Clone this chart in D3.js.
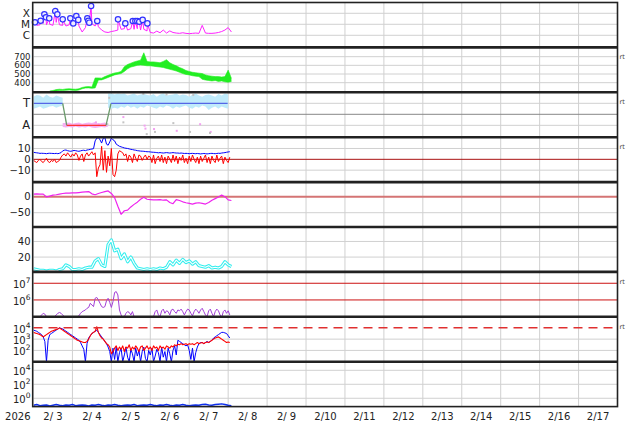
<!DOCTYPE html>
<html>
<head>
<meta charset="utf-8">
<script src="https://cdn.jsdelivr.net/npm/d3@7"></script>
<style>
  body { margin: 0; background: #fff; }
  svg { display: block; font-family: "DejaVu Sans", sans-serif; }
</style>
</head>
<body>
<svg id="chart" width="634" height="424"></svg>
<script>
// all series: hours since 2026-02-03 00:00 UT

// panel 1: x-ray flux (W/m2), 2-hourly background + flare peaks
const xrayBg = [1.1e-5, 8e-6, 9e-6, 1.2e-5, 9e-6, 1e-5, 8e-6, 1.5e-5, 9e-6, 8e-6,
  7e-6, 9e-6, 8e-6, 1e-5, 7e-6, 2e-6, 5e-6, 8e-6, 1.1e-5, 7e-6,
  6e-6, 3e-6, 2e-6, 1.8e-6, 2.2e-6, 2.5e-6, 3e-6, 3.5e-6, 4e-6, 3e-6,
  4e-6, 3.5e-6, 4e-6, 3e-6, 3.5e-6, 2.5e-6, 1.8e-6, 1.6e-6, 2.4e-6, 1.7e-6,
  3e-6, 1.6e-6, 2.5e-6, 1.8e-6, 1.6e-6, 1.5e-6, 1.7e-6, 1.5e-6, 1.4e-6, 1.5e-6,
  1.6e-6, 1.5e-6, 8e-6, 1.6e-6, 1.5e-6, 1.5e-6, 1.6e-6, 1.8e-6, 2.2e-6, 3e-6,
  5e-6, 2e-6];
const flares = [[0.9, 1.5e-5], [4.4, 2.1e-5], [6.7, 8e-5], [7.7, 4.3e-5], [9.7, 3.5e-5],
  [13.4, 1.6e-4], [14.7, 8e-5], [18, 2.8e-5], [22.7, 3.5e-5], [24.5, 1.2e-5],
  [26.4, 5.6e-5], [27.6, 2.5e-5], [33.2, 3.5e-5], [33.8, 2.1e-5], [34.4, 1.4e-5],
  [35.5, 4.6e-4], [39.3, 2e-5], [52.1, 2.8e-5], [56.6, 1.2e-5], [61.2, 2e-5],
  [62.8, 2e-5], [64, 2e-5], [65.2, 1.7e-5], [67.3, 2.5e-5], [70.2, 1.2e-5]];
const xrayLabels = [["X", 1e-4], ["M", 1e-5], ["C", 1e-6]];

// panel 2: solar wind speed band (km/s), 2-hourly from h10
const speedLo = [295, 298, 305, 310, 310, 312, 315, 312, 310, 315,
  330, 338, 340, 335, 340, 430, 432, 445, 460, 475,
  490, 498, 505, 530, 560, 580, 590, 600, 605, 600,
  595, 595, 590, 585, 580, 575, 565, 555, 545, 535,
  520, 505, 495, 490, 480, 475, 470, 440, 430, 425,
  420, 425, 415, 420, 410, 405, 415];
const speedHi = [305, 310, 320, 325, 322, 328, 330, 326, 325, 330,
  345, 352, 355, 350, 455, 455, 452, 470, 485, 500,
  512, 518, 530, 585, 610, 625, 640, 650, 660, 745,
  645, 640, 640, 635, 630, 645, 665, 630, 610, 595,
  575, 560, 540, 530, 520, 515, 510, 505, 490, 480,
  475, 470, 470, 465, 470, 545, 450];
const speedTicks = [400, 500, 600, 700];

// panel 3: sector (T = 1, A = -1)
const sectorHours = [0, 18, 20.5, 44.7, 47.8, 119.7];
const sectorState = [1, 1, -1, -1, 1, 1];
const phiLo = [0.5, 0.6, 0.7, 0.5, 0.6, 0.7, 0.75, 0.6, 0.7, 0.8,
  null, null, null, null, null, null, null, null, null, null, null, null, null,
  0.6, 0.5, 0.6, 0.5, 0.7, 0.6, 0.8, 0.6, 0.7, 0.5, 0.7,
  0.6, 0.8, 0.7, 0.6, 0.5, 0.7, 0.6, 0.8, 0.7, 0.5,
  0.7, 0.6, 0.7, 0.8, 0.6, 0.5, 0.7, 0.6, 0.8, 0.7,
  0.4, 0.6, 0.7, 0.5, 0.7, 0.6, 0.5];
const phiHi = [1.6, 1.75, 1.7, 1.5, 1.8, 1.6, 1.5, 1.7, 1.6, 1.5,
  null, null, null, null, null, null, null, null, null, null, null, null, null,
  1.9, 1.9, 1.8, 1.9, 1.85, 1.9, 1.7, 1.8, 1.9, 1.7, 1.8,
  1.9, 1.75, 1.7, 1.85, 1.6, 1.8, 1.9, 1.7, 1.75, 1.8,
  1.9, 1.7, 1.8, 1.75, 1.6, 1.8, 1.9, 1.7, 1.6, 1.75,
  1.8, 1.7, 1.6, 1.85, 1.7, 1.9, 1.8];
const awayLo = [-1.15, -1.2, -1.15, -1.2, -1.1, -1.2, -1.15, -1.2, -1.1, -1.2, -1.25, -1.2, -1.15, -1.2, -1.1];
const awayHi = [-0.8, -0.8, -0.75, -0.85, -0.8, -0.75, -0.85, -0.8, -0.75, -0.8, -0.7, -0.85, -0.8, -0.75, -0.85];
const pinkDots = [[38.5, -0.73], [40.2, -0.9], [55.4, -0.25], [68.5, -1.03], [69, -1.3],
  [74.3, -1.34], [88.3, -1.5], [102.7, -0.9], [109.2, -1.6]];
const grayDots = [[46.7, 1.5], [55.4, -0.73], [69.8, -1.8], [74.9, -1.6], [86.2, -0.8],
  [96.5, -1.6], [108.8, -1.7], [45.5, -0.9], [67.7, 1.85], [82, 1.8], [98.5, 1.75]];

// panel 4: IMF Bt and Bz (nT), hourly
const bt = [6.5, 6.2, 6, 5.8, 5.5, 5.6, 5.5, 5.4, 5.2, 5.5, 5.6, 5.5, 5.4, 5.3, 5.5, 5.2, 5.6, 6.2,
  7.8, 8.4, 8.6, 8, 7.6, 7.4, 7.8, 8.2, 8, 7.6, 7.4, 7.8, 8.2, 8.4, 8, 8.6, 8.8, 9.2, 9.5, 9.8,
  17, 19.5, 20, 18, 15, 19.5, 20, 14, 13, 16, 19.5, 18, 17, 14, 13, 12,
  11.5, 11, 10.5, 10.2, 10, 9.6, 9.2, 9, 8.6, 8.4, 8, 7.8, 7.6, 7.5, 7.4, 7.2, 7, 7,
  6.8, 6.6, 6.5, 6.4, 6.2, 6, 6.2, 6, 5.8, 6, 6.2, 6, 5.8, 6, 6.2, 6, 5.8, 5.8, 5.6, 5.8,
  5.6, 5.4, 5.5, 5.4, 5.2, 5.4, 5.5, 5.3, 5.2, 5.4, 5.2, 5, 5.2, 5.4, 5.2, 5, 5.2, 5.4, 5.5, 5.3,
  5.2, 5.4, 5.6, 5.5, 5.8, 6, 6.2, 6.5, 6.8, 7];
const bz = [-1, -2, -3, -1, 0, -2, -3, -1, 1, -2, -3, -1, -2, 0, -3, -2, -1, 2,
  4, 5, 3, 6, 4, 2, 5, 3, 6, 4, -1, 3, 5, -2, 4, 6, 3, 5, 7, 4,
  6, -16, -8, -5, 12, -10, 8, -12, 3, -6, 10, -14, -16, -10, 5, 8,
  7, 6, 3, 5, -2, 4, 2, -3, 5, 1, -2, 4, 3, -1, 2, 4, 0, 3,
  2, -3, 4, -4, 1, 3, -2, 4, -3, 2, -4, 3, 0, -3, 4, -2, 3, -4, 2, -1,
  4, -3, 1, -4, 3, -2, 4, 0, -3, 2, -4, 3, -2, 1, 4, -3, 2, -4, 3, -1,
  -3, 4, -2, 1, 3, -4, 2, -1, -3, 2];
const imfTicks = [10, 0, -10];

// panel 5: Dst (nT), 2-hourly
const dst = [8, 9, 8, 8, -1, 2, 5, 6, 8, 10, 11, 11, 12, 12, 13, 14, 15, 16, 9, 6,
  10, 13, 16, 18, 10, -3, -30, -55, -44, -42, -32, -24, -17, -8, -2, -8, -9, -10, -10, -9,
  -11, -10, -18, -22, -9, -12, -16, -19, -21, -23, -20, -19, -21, -23, -18, -11, -6, -1, 5, 0,
  -10, -12];
const dstTicks = [0, -50];

// panel 6: index (cyan), 2-hourly
const cyanIdx = [5, 4, 3, 3, 2, 3, 3, 2, 4, 5, 10, 8, 4, 4, 5, 4, 6, 7, 7, 15,
  18, 10, 8, 36, 42, 28, 30, 18, 24, 14, 20, 12, 6, 5, 4, 5, 4, 5, 4, 6,
  5, 7, 14, 10, 16, 12, 17, 13, 15, 11, 14, 9, 8, 7, 9, 6, 7, 6, 8, 14, 10, 8];
const cyanTicks = [20, 40];

// panel 7: electron flux, log10, hourly
const electronExp = [5.0, 5.0, 4.95, 4.9, 5.0, 5.1, 5.2, 5.15, 5.0, 4.9, 4.95, 5.0, 4.9, 5.0, 5.1, 5.2, 5.25, 5.2, 5.1, 5.0,
  4.9, 4.85, 4.8, 4.8, 4.85, 4.9, 4.95, 5.0,
  5.05, 5.2, 5.3, 5.35, 5.4, 5.5, 5.55, 5.8, 5.7, 5.6, 6.1, 6.15, 6.0, 5.8, 5.6, 5.55, 5.6, 5.95, 6.1, 5.85,
  5.55, 5.9, 6.45, 6.5, 6.3, 5.4, 5.1, 4.9,
  5.0, 5.2, 5.3, 5.25, 5.1, 5.3, 5.0, 4.9, 4.8, 4.8, 4.8, 4.85, 4.9, 4.85, 4.8, 4.8, 4.85, 4.9, 5.0, 5.3,
  5.4, 5.1, 5.0, 5.35, 5.45, 5.2, 5.35, 5.3, 5.1, 5.4, 5.45, 5.3, 5.2, 5.4, 5.35, 5.45, 5.3, 5.1, 5.3, 5.45,
  5.4, 5.2, 5.05, 5.3, 5.45, 5.35, 5.2, 5.4, 5.5, 5.3, 5.1, 5.0, 5.35, 5.45, 5.2, 5.0, 5.3, 5.45, 5.35, 5.1,
  4.95, 5.3, 5.4, 5.2, 5.35, 5.1];
const electronTicks = [6, 7];

// panel 8: two log10 series, hourly
const blueExp = [3.8, 3.75, 3.7, 3.6, 3.5, 3.4, 3.2, 2.8, 1.0, 2.9, 3.4, 3.5, 3.6, 3.7, 3.8, 3.9, 4.0, 3.95, 3.9, 3.8,
  3.7, 3.6, 3.5, 3.4, 3.3, 3.2, 3.1, 3.0, 2.9, 2.7, 2.4, 2.1, 1.0, 2.6, 3.1, 3.3, 3.5, 3.6, 3.7, 3.8,
  3.6, 3.4, 3.2, 3.0, 2.8, 2.6, 2.3, 1.9, 1.0, 2.2,
  1.2, 2.3, 1.0, 1.8, 2.2, 1.0, 1.6, 2.3, 1.4, 1.0, 2.1, 1.7, 1.0, 2.2, 1.5, 2.0, 1.0, 1.9, 2.3, 1.3,
  1.0, 2.0, 1.6, 2.2, 1.0, 1.5, 2.1, 1.8, 1.0, 2.3, 1.4, 1.9, 1.0, 2.2, 1.7, 1.0, 2.0, 2.4, 1.6,
  2.9, 2.8, 2.7, 2.6, 2.5, 2.4, 2.5, 2.0, 1.2, 2.2, 1.0, 1.8, 2.3, 2.6, 2.7, 2.7, 2.6, 2.7, 2.8, 2.7,
  2.8, 2.9, 3.1, 3.2, 3.3, 3.4, 3.5, 3.6, 3.6, 3.55, 3.5, 3.3, 3.1];
const redExp = [3.6, 3.55, 3.5, 3.45, 3.4, 3.3, 3.2, 3.3, 3.4, 3.5, 3.6, 3.7, 3.75, 3.8, 3.85, 3.9, 4.0,
  3.9, 3.8, 3.7, 3.6, 3.5, 3.4, 3.3, 3.2, 3.1, 3.0, 2.9, 2.85, 2.8, 2.75, 2.7, 2.7, 2.8, 3.0, 3.3,
  3.5, 3.6, 3.7, 4.1, 3.6, 3.3, 3.1, 3.0, 2.8, 2.6, 2.5, 2.3, 1.7, 1.9,
  2.2, 2.4, 2.0, 2.3, 2.1, 2.4, 1.9, 2.3, 2.2, 2.5, 2.0, 2.3, 2.1, 2.4, 2.2, 1.9, 2.3, 2.4, 2.0, 2.2,
  2.4, 2.1, 2.3, 2.0, 2.4, 2.2, 2.3, 2.0, 2.4, 2.2, 2.3, 2.1, 2.4, 2.3, 2.2, 2.4, 2.3,
  2.5, 2.4, 2.55, 2.5, 2.6, 2.5, 2.55, 2.6, 2.5, 2.6, 2.55, 2.6, 2.5, 2.6, 2.7, 2.6, 2.65, 2.7, 2.6, 2.7,
  2.75, 2.7, 2.8, 2.9, 3.0, 3.1, 3.15, 3.2, 3.1, 3.0, 2.9, 2.8, 2.7, 2.75, 2.7];
const p8Ticks = [2, 3, 4];

// panel 9: log10, 2-hourly
const lowExp = [-1.0, -0.9, -1.05, -1.0, -0.95, -1.1, -1.0, -0.9, -1.0, -1.05, -0.95, -1.0, -0.9, -1.05, -1.0, -0.95,
  -1.0, -1.1, -0.95, -1.0, -0.9, -1.0, -1.05, -0.95, -1.0, -0.9, -1.0, -1.05, -1.0, -0.95, -1.0, -0.9,
  -1.05, -1.0, -0.95, -1.0, -0.9, -1.0, -1.05, -0.95, -1.0, -0.9, -1.0, -1.05, -0.95, -1.0, -0.9, -1.0,
  -1.05, -1.0, -0.95, -1.0, -0.9, -0.85, -0.95, -1.0, -0.9, -0.85, -0.8, -0.9, -1.0, -1.05];
const p9Ticks = [0, 2, 4];

// ---- layout ----
const svg = d3.select("#chart");
const L = 33.5, R = 617.5;
const T0 = Date.UTC(2026, 1, 3);
const hr = h => new Date(T0 + h * 3600e3);
const x = d3.scaleUtc().domain([hr(0), hr(360)]).range([L, R]);
const top0 = 2.5, ph = 44.9;
const pTop = i => top0 + i * ph, pBot = i => top0 + (i + 1) * ph;

const ys = [
  d3.scaleLog().domain([10 ** -7.1, 10 ** -3.02]),
  d3.scaleLinear().domain([289, 807]),
  d3.scaleLinear().domain([-2.08, 2.0]),
  d3.scaleLinear().domain([-21, 20.4]),
  d3.scaleLinear().domain([-94.7, 45.6]),
  d3.scaleLinear().domain([1, 58.5]),
  d3.scaleLog().domain([10 ** 4.99, 10 ** 7.68]),
  d3.scaleLog().domain([10, 10 ** 4.98]),
  d3.scaleLog().domain([10 ** -1.19, 10 ** 5.23])
];
ys.forEach((s, i) => s.range([pBot(i), pTop(i)]));

const seq = (arr, start, step) => arr.map((v, i) => ({ t: hr(start + i * step), v }));
const pow = arr => arr.map(e => 10 ** e);

const defs = svg.append("defs");
ys.forEach((s, i) => {
  defs.append("clipPath").attr("id", "clip" + i)
    .append("rect").attr("x", L).attr("y", pTop(i)).attr("width", R - L).attr("height", ph);
});

const gridG = svg.append("g");
const refG = svg.append("g");
const dataG = svg.append("g");
const frameG = svg.append("g");
const textG = svg.append("g").attr("fill", "#222").attr("font-size", 10);

// vertical day grid
d3.range(1, 15).forEach(d => {
  gridG.append("line").attr("x1", x(hr(d * 24))).attr("x2", x(hr(d * 24)))
    .attr("y1", top0).attr("y2", pBot(8)).attr("stroke", "#d0d0d0");
});
function hgrid(i, v, color, w) {
  const y = ys[i](v);
  (color ? refG : gridG).append("line").attr("x1", L).attr("x2", R).attr("y1", y).attr("y2", y)
    .attr("stroke", color || "#d0d0d0").attr("stroke-width", w || 1);
  return y;
}
function numLabel(y, t, size) {
  const fs = size || 10;
  textG.append("text").attr("x", 30.5).attr("y", y + fs * 0.36).attr("text-anchor", "end")
    .attr("font-size", fs).text(t);
}
function letterLabel(y, t, size) {
  const fs = size || 11.5;
  textG.append("text").attr("x", 30).attr("y", y + fs * 0.36).attr("text-anchor", "end")
    .attr("font-size", fs).text(t);
}
function powLabel(y, e) {
  const t = textG.append("text").attr("x", 30.5).attr("y", y + 5).attr("text-anchor", "end");
  t.append("tspan").text("10");
  t.append("tspan").attr("dy", -5).attr("font-size", 7.5).text(e);
}
function line(i, data, color, w) {
  const y = ys[i];
  const gen = d3.line().defined(d => d.v != null).x(d => x(d.t)).y(d => y(d.v));
  return dataG.append("path").attr("clip-path", `url(#clip${i})`).attr("d", gen(data))
    .attr("fill", "none").attr("stroke", color).attr("stroke-width", w || 1)
    .attr("stroke-linejoin", "round");
}
function band(i, lo, hi, start, step, color) {
  const y = ys[i];
  const pts = lo.map((v, k) => ({ t: hr(start + k * step), lo: v, hi: hi[k] }));
  const gen = d3.area().defined(d => d.lo != null).x(d => x(d.t)).y0(d => y(d.lo)).y1(d => y(d.hi));
  return dataG.append("path").attr("clip-path", `url(#clip${i})`).attr("d", gen(pts)).attr("fill", color);
}

// panel 1: x-ray
xrayLabels.forEach(([t, v]) => letterLabel(hgrid(0, v), t, 10.5));
const xrayPts = seq(xrayBg, 0, 2).concat(flares.map(([h, v]) => ({ t: hr(h), v })))
  .sort((a, b) => a.t - b.t);
line(0, xrayPts, "#ff22ff", 1);
dataG.append("g").selectAll("circle").data(flares).join("circle")
  .attr("cx", d => x(hr(d[0]))).attr("cy", d => ys[0](d[1])).attr("r", 2.7)
  .attr("fill", "#eef").attr("stroke", "#3030ff").attr("stroke-width", 1.2);

// panel 2: speed
speedTicks.forEach(v => numLabel(hgrid(1, v), v, 8.5));
band(1, speedLo, speedHi, 10, 2, "#22ee22");
line(1, seq(speedLo, 10, 2), "#22ee22", 0.6);
line(1, seq(speedHi, 10, 2), "#22ee22", 0.6);

// panel 3: sector
letterLabel(hgrid(2, 1), "T");
letterLabel(hgrid(2, -1), "A");
hgrid(2, 0, "#888");
band(2, phiLo, phiHi, 0, 2, "#c0ebfb");
band(2, awayLo, awayHi, 18, 2, "#f6b0f2");
dataG.append("g").selectAll("rect").data(pinkDots).join("rect")
  .attr("x", d => x(hr(d[0])) - 1).attr("y", d => ys[2](d[1]) - 1).attr("width", 2).attr("height", 2)
  .attr("fill", "#f2a0f0");
dataG.append("g").selectAll("rect").data(grayDots).join("rect")
  .attr("x", d => x(hr(d[0])) - 1).attr("y", d => ys[2](d[1]) - 1).attr("width", 2).attr("height", 2)
  .attr("fill", "#c4c4c4");
d3.pairs(d3.range(sectorHours.length)).forEach(([a, b]) => {
  const same = sectorState[a] === sectorState[b];
  const c = !same ? "#6a9a6a" : sectorState[a] > 0 ? "#5566e6" : "#ff3333";
  line(2, [{ t: hr(sectorHours[a]), v: sectorState[a] }, { t: hr(sectorHours[b]), v: sectorState[b] }], c, 1.3);
});

// panel 4: IMF
imfTicks.forEach(v => numLabel(v === 0 ? hgrid(3, v, "#aa1111") : hgrid(3, v), v === -10 ? "\u221210" : v));
line(3, seq(bz, 0, 1), "#ff0000", 1);
line(3, seq(bt, 0, 1), "#0000ff", 1);

// panel 5: Dst
dstTicks.forEach(v => numLabel(v === 0 ? hgrid(4, v, "#d47474", 2) : hgrid(4, v), v < 0 ? "\u2212" + (-v) : v));
line(4, seq(dst, 0, 2), "#ee22ee", 1.2);

// panel 6: cyan index (hollow line)
cyanTicks.forEach(v => numLabel(hgrid(5, v), v));
line(5, seq(cyanIdx, 0, 2), "#33eeee", 3.2);
line(5, seq(cyanIdx, 0, 2), "#ffffff", 1.1);

// panel 7: electrons
electronTicks.forEach(e => powLabel(hgrid(6, 10 ** e, "#cc1111"), e));
line(6, seq(pow(electronExp), 0, 1), "#a23fd6", 1);

// panel 8
p8Ticks.forEach(e => {
  const y = e === 4 ? ys[7](1e4) : hgrid(7, 10 ** e);
  powLabel(y, e);
});
line(7, seq(pow(blueExp), 0, 1), "#0000ff", 1);
line(7, seq(pow(redExp), 0, 1), "#ff0000", 1.1);
dataG.append("line").attr("x1", L).attr("x2", R).attr("y1", ys[7](1e4)).attr("y2", ys[7](1e4))
  .attr("stroke", "#e03030").attr("stroke-width", 1.5).attr("stroke-dasharray", "9,6");

// panel 9
p9Ticks.forEach(e => powLabel(hgrid(8, 10 ** e), e));
line(8, seq(pow(lowExp), 0, 2), "#1030ee", 1.5);

// frame
frameG.append("rect").attr("x", L - 0.8).attr("y", top0).attr("width", R - L + 0.8).attr("height", pBot(8) - top0)
  .attr("fill", "none").attr("stroke", "#222").attr("stroke-width", 1.6);
d3.range(1, 9).forEach(i => {
  frameG.append("line").attr("x1", L - 0.8).attr("x2", R).attr("y1", pTop(i)).attr("y2", pTop(i))
    .attr("stroke", "#222").attr("stroke-width", 2.6);
});

// "rt" markers
[1, 2, 3, 6, 7].forEach(i => {
  textG.append("text").attr("x", 619.5).attr("y", pTop(i) + 12).attr("font-size", 6.5)
    .attr("fill", "#444").text("rt");
});

// date axis
const fmt = d3.utcFormat("%-m/%e");
textG.append("text").attr("x", 30.5).attr("y", 420).attr("text-anchor", "end").text("2026");
d3.range(0, 15).forEach(d => {
  textG.append("text").attr("x", x(hr(d * 24 + 12))).attr("y", 420).attr("text-anchor", "middle")
    .attr("xml:space", "preserve").style("white-space", "pre").text(fmt(hr(d * 24)));
});
</script>
</body>
</html>
